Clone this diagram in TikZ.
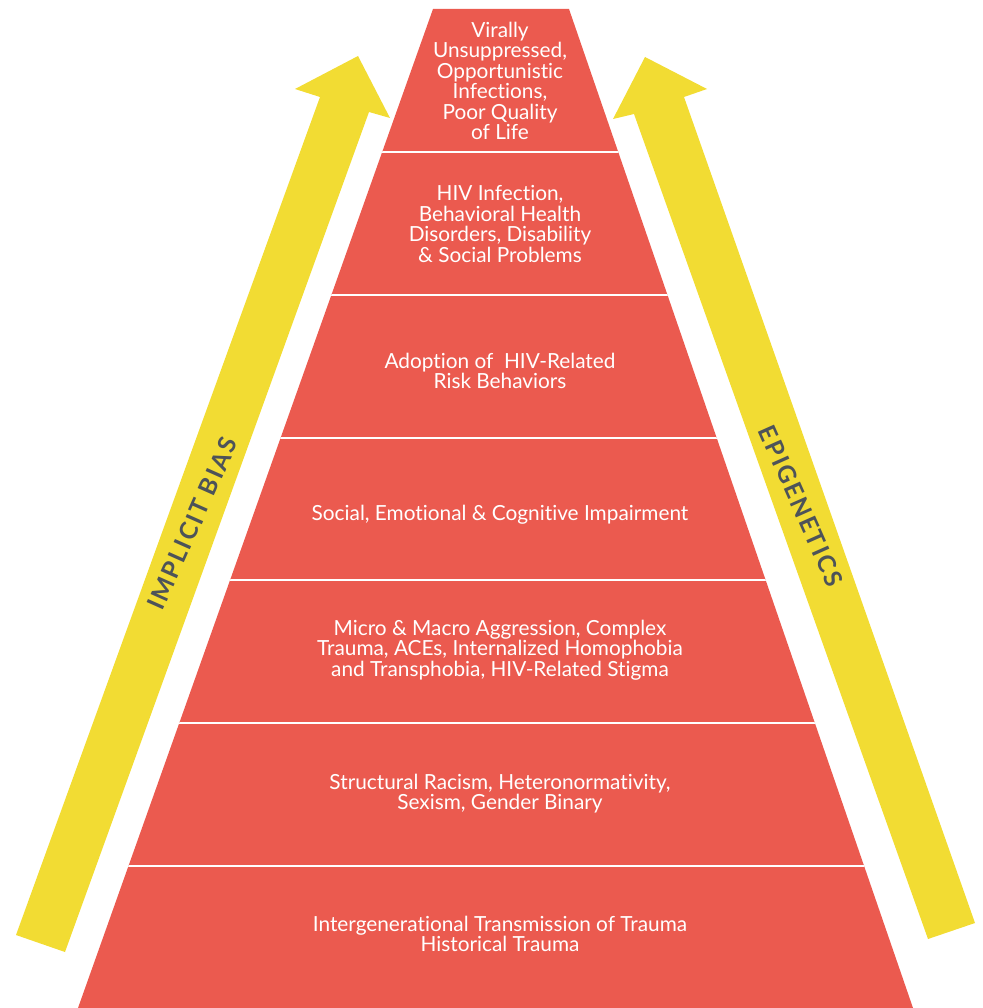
\documentclass[tikz,border=0pt]{standalone}
\usepackage{fontspec}
\setmainfont{Lato}[Ligatures=NoCommon]
\definecolor{pyrred}{HTML}{EB5A4F}
\definecolor{arrowyellow}{HTML}{F2DC33}
\definecolor{labelgray}{HTML}{4D5359}
\tikzset{
	level/.style = {text = white, align = center, font = \fontsize{20.8}{20.5}\selectfont},
	side/.style = {text = labelgray, font = \fontsize{24.5}{26}\selectfont\bfseries\addfontfeatures{LetterSpace=8}}
}

\begin{document}
\begin{tikzpicture}[x=1pt, y=-1pt]
	\useasboundingbox (0,0) rectangle (982,1008);
	\fill[pyrred] (433,9) -- (569,9) -- (913,1008) -- (78,1008) -- cycle;
	\begin{scope}
		\clip (433,9) -- (569,9) -- (913,1008) -- (78,1008) -- cycle;
		\foreach \y in {152,295,438,580,723,866}
			\draw[white, line width = 2.2pt] (0,\y) -- (982,\y);
	\end{scope}
	\fill[arrowyellow] (16,935) -- (320,97) -- (295,89) -- (358,56) -- (390,118) -- (369,112) -- (65,952) -- cycle;
	\fill[arrowyellow] (928,939) -- (634,114) -- (613,119) -- (645,57) -- (707,89) -- (684,97) -- (975,923) -- cycle;
	\node[side, rotate = 66] (implicit) at (192.5,523.5) {IMPLICIT BIAS};
	\node[side, rotate = -66] (epigen) at (801,506) {EPIGENETICS};
	\node[level] (virally) at (500,81) {Virally\\Unsuppressed,\\Opportunistic\\Infections,\\Poor Quality\\of Life};
	\node[level] (hivinf) at (500,224) {HIV Infection,\\Behavioral Health\\Disorders, Disability\\\& Social Problems};
	\node[level] (adoption) at (500,371) {Adoption of~ HIV-Related\\Risk Behaviors};
	\node[level] (impair) at (500,515) {Social, Emotional \& Cognitive Impairment};
	\node[level] (micro) at (500,650) {Micro \& Macro Aggression, Complex\\Trauma, ACEs, Internalized Homophobia\\and Transphobia, HIV-Related Stigma};
	\node[level] (racism) at (500,793.5) {Structural Racism, Heteronormativity,\\Sexism, Gender Binary};
	\node[level] (trauma) at (500,934) {Intergenerational Transmission of Trauma\\Historical Trauma};
\end{tikzpicture}
\end{document}
